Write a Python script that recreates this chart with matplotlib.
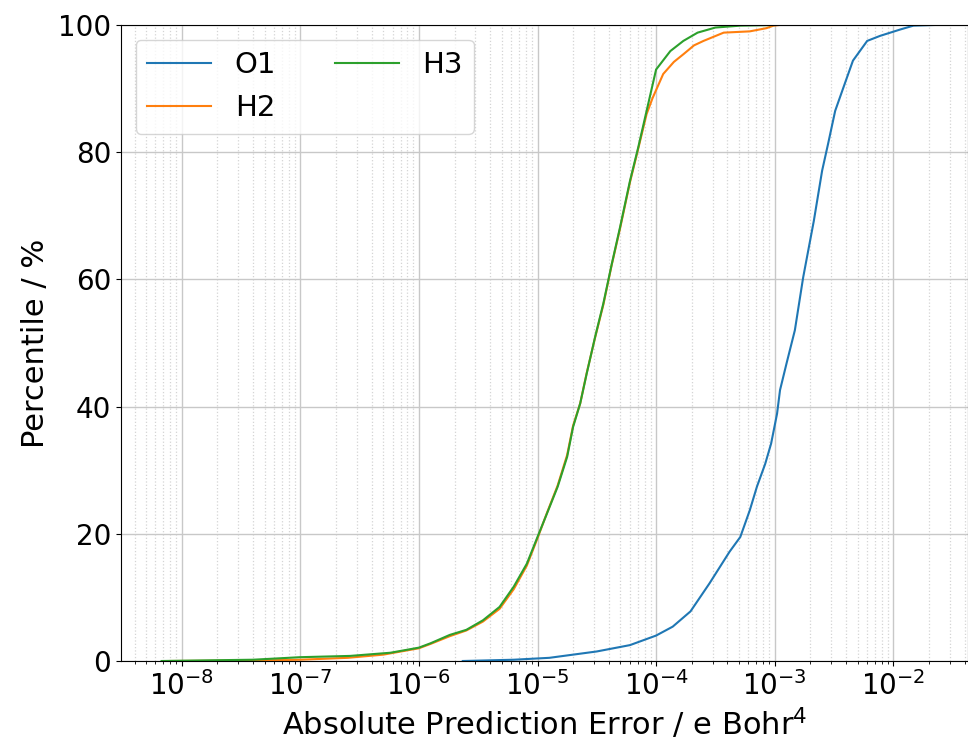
import numpy as np
import matplotlib.pyplot as plt

# log10 of the absolute error, percentile in %
o1_log = [-5.63, -5.2, -4.9, -4.78, -4.50, -4.22, -4.0, -3.86, -3.71, -3.55, -3.38,
          -3.29, -3.21, -3.15, -3.08, -3.03, -2.98, -2.955, -2.90, -2.83, -2.76,
          -2.67, -2.60, -2.55, -2.49, -2.42, -2.34, -2.22, -2.11, -1.94, -1.83, -1.66]
o1_pct = [0, 0.2, 0.5, 0.8, 1.5, 2.5, 4.0, 5.4, 7.8, 12.2, 17.2,
          19.5, 23.7, 27.4, 31.0, 34.2, 38.9, 42.6, 46.8, 52.0, 60.3,
          69.2, 77.1, 81.3, 86.5, 90.2, 94.4, 97.5, 98.3, 99.3, 99.9, 100]

h2_log = [-8.1, -7.5, -7.0, -6.6, -6.3, -6.0, -5.9, -5.74, -5.6, -5.46, -5.32, -5.2,
          -5.09, -5.0, -4.92, -4.83, -4.75, -4.70, -4.64, -4.585, -4.515, -4.445,
          -4.374, -4.304, -4.22, -4.15, -4.08, -4.03, -3.94, -3.85, -3.77, -3.68,
          -3.60, -3.43, -3.21, -3.07, -3.01, -2.96]
h2_pct = [0, 0.05, 0.2, 0.5, 1.0, 2.0, 2.7, 3.9, 4.8, 6.2, 8.2, 11.3,
          15.0, 19.3, 23.3, 27.6, 32.4, 37.0, 40.5, 45.3, 50.8, 56.0,
          62.3, 68.0, 75.3, 80.6, 86.0, 88.5, 92.3, 94.2, 95.4, 96.8,
          97.5, 98.8, 99.0, 99.5, 99.9, 100]

h3_log = [-8.17, -7.8, -7.4, -7.0, -6.58, -6.24, -6.0, -5.9, -5.74, -5.6, -5.46,
          -5.32, -5.2, -5.09, -5.0, -4.92, -4.83, -4.75, -4.70, -4.64, -4.585,
          -4.515, -4.445, -4.374, -4.304, -4.22, -4.15, -4.08, -4.0, -3.88, -3.77,
          -3.65, -3.5, -3.29, -3.0]
h3_pct = [0, 0.1, 0.2, 0.6, 0.8, 1.3, 2.1, 2.8, 4.1, 4.9, 6.4,
          8.5, 11.7, 15.3, 19.5, 23.2, 27.4, 32.1, 36.8, 40.5, 45.2,
          50.9, 56.2, 62.4, 68.2, 75.5, 80.8, 86.5, 93.0, 95.9, 97.5,
          98.8, 99.6, 99.9, 100]

fig = plt.figure(figsize=(9.68, 7.42), dpi=100)
ax = fig.add_axes([121/968, 1-661/742, (968-121)/968, (661-25)/742])

ax.plot(10**np.array(o1_log), o1_pct, label='O1')
ax.plot(10**np.array(h2_log), h2_pct, label='H2')
ax.plot(10**np.array(h3_log), h3_pct, label='H3')

ax.set_xscale('log')
ax.set_xlim(10**-8.512, 10**-1.37)
ax.set_ylim(0, 100)
ax.grid(which='major', color='#c8c8c8', linewidth=1)
ax.grid(which='minor', axis='x', color='#d4d4d4', linestyle=':', linewidth=0.9)
ax.tick_params(labelsize=20)
ax.set_xlabel('Absolute Prediction Error / e Bohr$^4$', fontsize=22)
ax.set_ylabel('Percentile / %', fontsize=22, labelpad=6)
ax.legend(loc='upper left', ncol=2, fontsize=21, handlelength=2.2)

plt.savefig('out.png')
